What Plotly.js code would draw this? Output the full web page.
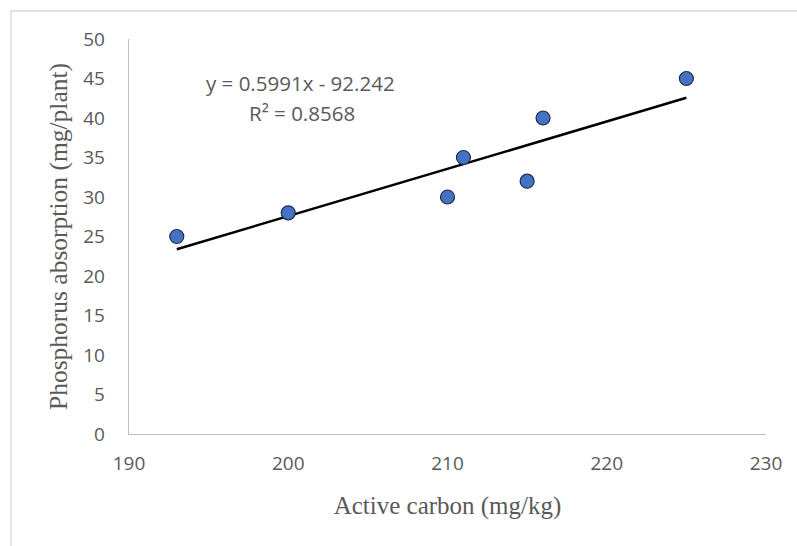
<!DOCTYPE html>
<html>
<head>
<meta charset="utf-8">
<script src="https://cdn.plot.ly/plotly-3.0.1.min.js"></script>
<style>html,body{margin:0;padding:0;background:#fff;}#chart{width:797px;height:546px;}</style>
</head>
<body>
<div id="chart"></div>
<script>
const activeCarbon = [193, 200, 210, 211, 215, 216, 225];
const phosphorus = [25, 28, 30, 35, 32, 40, 45];
const trendSlope = 0.5991;
const trendIntercept = -92.242;
const equationText = "y = 0.5991x - 92.242";
const r2Text = "R² = 0.8568";
const xTicks = [190, 200, 210, 220, 230];
const yTicks = [0, 5, 10, 15, 20, 25, 30, 35, 40, 45, 50];

const xMin = Math.min(...activeCarbon), xMax = Math.max(...activeCarbon);
const trendX = [xMin, xMax];
const trendY = trendX.map(x => trendSlope * x + trendIntercept);

const W = 797, H = 546, L = 129, T = 39, R = 31, B = 112;
const pw = W - L - R, ph = H - T - B;
const px = v => (v - L) / pw;
const py = v => (H - B - v) / ph;

const sans = 'Open Sans, Liberation Sans, sans-serif';
const serif = 'Liberation Serif, Times New Roman, serif';

const data = [
  {x: trendX, y: trendY, mode: 'lines', type: 'scatter',
   line: {color: '#000000', width: 2.5}, hoverinfo: 'skip', showlegend: false},
  {x: activeCarbon, y: phosphorus, mode: 'markers', type: 'scatter',
   marker: {color: '#4472c4', size: 14, line: {color: '#1f2d4a', width: 1.2}}, showlegend: false}
];

const layout = {
  width: W, height: H,
  margin: {l: L, r: R, t: T, b: B},
  paper_bgcolor: '#ffffff', plot_bgcolor: '#ffffff',
  showlegend: false,
  xaxis: {
    range: [190, 230], tickvals: xTicks, ticktext: xTicks.map(String),
    showgrid: false, zeroline: false, showline: true, linecolor: '#bfbfbf', linewidth: 1.3,
    ticks: '', ticklabelstandoff: 12,
    tickfont: {family: sans, size: 19, color: '#595959'},
    title: {text: 'Active carbon (mg/kg)', standoff: 21,
      font: {family: serif, size: 25, color: '#595959'}}
  },
  yaxis: {
    range: [0, 50], tickvals: yTicks, ticktext: yTicks.map(String),
    showgrid: false, zeroline: false, showline: true, linecolor: '#bfbfbf', linewidth: 1.3,
    ticks: '', ticklabelstandoff: 19,
    tickfont: {family: sans, size: 19, color: '#595959'},
    title: {text: 'Phosphorus absorption (mg/plant)', standoff: 8,
      font: {family: serif, size: 25.5, color: '#595959'}}
  },
  annotations: [
    {xref: 'paper', yref: 'paper', x: px(300), y: py(83), text: equationText, showarrow: false,
     xanchor: 'center', yanchor: 'middle',
     font: {family: sans, size: 20.5, color: '#595959'}},
    {xref: 'paper', yref: 'paper', x: px(302), y: py(113), text: r2Text, showarrow: false,
     xanchor: 'center', yanchor: 'middle',
     font: {family: sans, size: 20.5, color: '#595959'}}
  ],
  shapes: [
    {type: 'rect', xref: 'paper', yref: 'paper', x0: px(11), x1: px(810), y0: py(560), y1: py(11),
     line: {color: '#d9d9d9', width: 1.3}, fillcolor: 'rgba(0,0,0,0)', layer: 'below'}
  ]
};

Plotly.newPlot('chart', data, layout, {displayModeBar: false, staticPlot: true});
</script>
</body>
</html>
